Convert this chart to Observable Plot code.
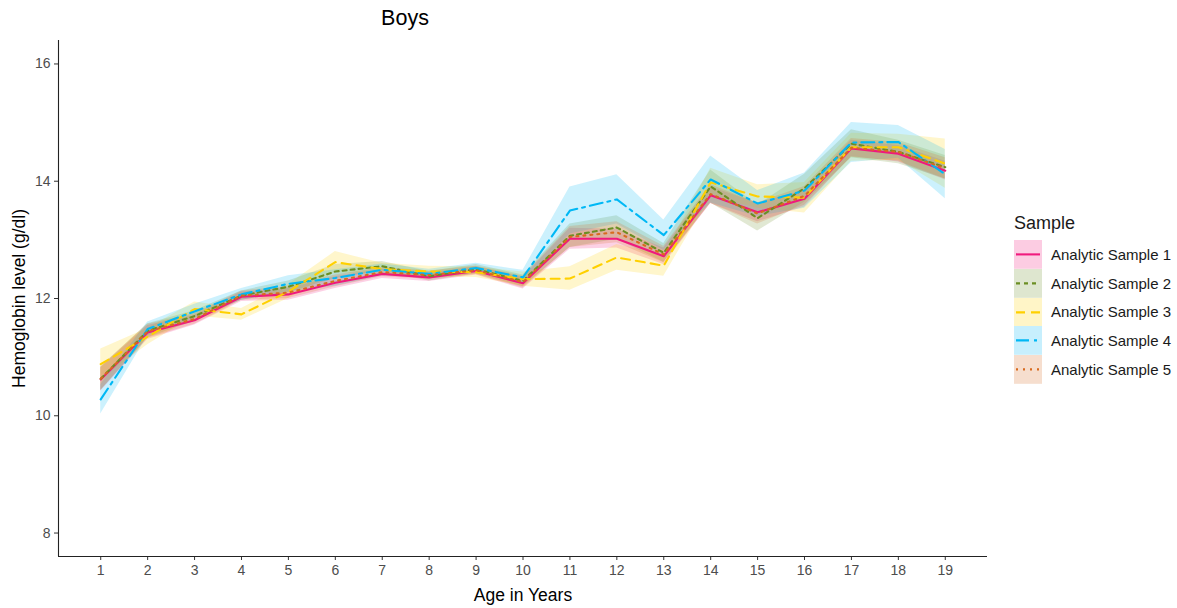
<!DOCTYPE html>
<html>
<head>
<meta charset="utf-8">
<script src="https://cdn.jsdelivr.net/npm/d3@7"></script>
<script src="https://cdn.jsdelivr.net/npm/@observablehq/plot@0.6"></script>
<style>
  html, body { margin: 0; padding: 0; background: #fff; }
  #wrap { position: relative; width: 1177px; height: 608px; font-family: "Liberation Sans", Arial, sans-serif; }
  #title { position: absolute; top: 6px; left: 0; width: 810px; text-align: center; font-size: 21.5px; color: #000; }
  #legend { position: absolute; left: 1014px; top: 213px; font-size: 15px; color: #1a1a1a; }
  #legend .ttl { font-size: 18px; margin-bottom: 6px; }
  #legend .row { display: flex; align-items: center; height: 28.8px; }
  #legend .row span { margin-left: 9px; }
</style>
</head>
<body>
<div id="wrap">
  <div id="title">Boys</div>
  <div id="chart"></div>
  <div id="legend"></div>
</div>
<script>
const ages = [1,2,3,4,5,6,7,8,9,10,11,12,13,14,15,16,17,18,19];
const samples = ["Analytic Sample 1","Analytic Sample 2","Analytic Sample 3","Analytic Sample 4","Analytic Sample 5"];
const colors = ["#F0197D","#6B8E23","#FFD000","#00B8F5","#D86A1E"];
const dashes = ["none","4,4","9,6","13,5,3,5","2,5"];

// mean hemoglobin per sample
const mean1 = [10.62,11.42,11.63,12.03,12.07,12.27,12.42,12.36,12.47,12.26,13.02,13.02,12.72,13.76,13.47,13.70,14.56,14.47,14.18];
const mean2 = [10.63,11.45,11.70,12.05,12.20,12.46,12.55,12.38,12.50,12.30,13.07,13.21,12.78,13.91,13.37,13.88,14.64,14.50,14.24];
const mean3 = [10.88,11.35,11.82,11.73,12.12,12.62,12.50,12.46,12.45,12.33,12.34,12.70,12.56,13.98,13.74,13.72,14.58,14.58,14.30];
const mean4 = [10.28,11.48,11.78,12.07,12.25,12.35,12.49,12.42,12.52,12.36,13.50,13.69,13.08,14.03,13.62,13.84,14.66,14.67,14.12];
const mean5 = [10.63,11.44,11.65,12.05,12.10,12.30,12.45,12.40,12.48,12.28,13.05,13.13,12.75,13.78,13.45,13.75,14.57,14.50,14.22];

// half-widths of the confidence bands
const hw1 = [0.20,0.12,0.08,0.08,0.10,0.10,0.08,0.07,0.07,0.10,0.18,0.16,0.14,0.14,0.16,0.14,0.14,0.14,0.16];
const hw2 = [0.20,0.12,0.09,0.08,0.10,0.12,0.08,0.08,0.08,0.10,0.20,0.20,0.16,0.28,0.22,0.24,0.24,0.20,0.20];
const hw3 = [0.26,0.14,0.12,0.10,0.12,0.18,0.10,0.09,0.09,0.12,0.20,0.22,0.18,0.24,0.20,0.26,0.24,0.22,0.42];
const hw4 = [0.25,0.12,0.12,0.10,0.14,0.14,0.10,0.08,0.08,0.12,0.40,0.42,0.26,0.40,0.22,0.30,0.34,0.28,0.42];
const hw5 = [0.20,0.12,0.09,0.08,0.10,0.10,0.08,0.07,0.07,0.10,0.18,0.18,0.14,0.16,0.18,0.16,0.16,0.16,0.18];

const means = [mean1, mean2, mean3, mean4, mean5];
const hws = [hw1, hw2, hw3, hw4, hw5];

const data = [];
samples.forEach((s, i) => {
  ages.forEach((a, j) => {
    data.push({sample: s, age: a, mean: means[i][j], lo: means[i][j] - hws[i][j], hi: means[i][j] + hws[i][j]});
  });
});

const marks = [];
samples.forEach((s, i) => {
  marks.push(Plot.areaY(data.filter(d => d.sample === s), {x: "age", y1: "lo", y2: "hi", fill: colors[i], fillOpacity: 0.2}));
});
samples.forEach((s, i) => {
  marks.push(Plot.lineY(data.filter(d => d.sample === s), {x: "age", y: "mean", stroke: colors[i], strokeWidth: 2.1, strokeDasharray: dashes[i]}));
});
marks.push(Plot.ruleX([0.1], {stroke: "#222", strokeWidth: 1.1}));
marks.push(Plot.ruleY([7.6], {stroke: "#222", strokeWidth: 1.1}));

const chart = Plot.plot({
  width: 1177,
  height: 608,
  marginLeft: 58,
  marginRight: 190,
  marginTop: 40,
  marginBottom: 52,
  style: {fontFamily: "'Liberation Sans', Arial, sans-serif", fontSize: "14px", color: "#4D4D4D", background: "#fff"},
  x: {domain: [0.1, 19.9], ticks: ages, tickFormat: d => String(d), tickSize: 4, tickPadding: 5, label: "Age in Years", labelAnchor: "center", labelArrow: "none", labelOffset: 44},
  y: {domain: [7.6, 16.4], ticks: [8,10,12,14,16], tickSize: 4, tickPadding: 4, label: "Hemoglobin level (g/dl)", labelAnchor: "center", labelArrow: "none", labelOffset: 46},
  marks
});
document.getElementById("chart").appendChild(chart);

// style axis labels like the reference
chart.querySelectorAll("g[aria-label='x-axis label'] text, g[aria-label='y-axis label'] text").forEach(t => {
  t.style.fontSize = "17.5px";
  t.setAttribute("fill", "#000");
});
chart.querySelectorAll("g[aria-label='x-axis tick'] path, g[aria-label='y-axis tick'] path").forEach(p => p.setAttribute("stroke", "#333"));

// legend
const lg = document.getElementById("legend");
lg.innerHTML = '<div class="ttl">Sample</div>';
samples.forEach((s, i) => {
  const row = document.createElement("div");
  row.className = "row";
  row.innerHTML = `<svg width="28" height="28.8"><rect x="0" y="0" width="28" height="28.8" fill="${colors[i]}" fill-opacity="0.22"></rect>` +
    `<line x1="2" x2="26" y1="14.4" y2="14.4" stroke="${colors[i]}" stroke-width="2.1" stroke-dasharray="${dashes[i] === 'none' ? '' : dashes[i]}"></line></svg><span>${s}</span>`;
  lg.appendChild(row);
});
</script>
</body>
</html>
